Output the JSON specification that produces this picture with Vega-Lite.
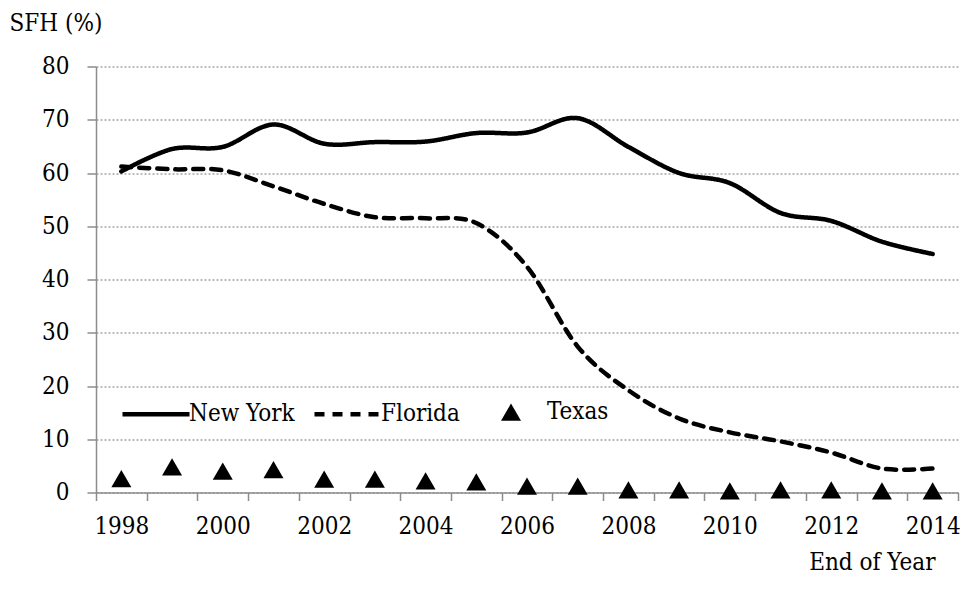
{
  "$schema": "https://vega.github.io/schema/vega-lite/v6.json",
  "autosize": {"type": "none"},
  "padding": {"left": 96, "top": 66.5, "right": 7, "bottom": 99},
  "width": 862,
  "height": 426,
  "background": "white",
  "config": {
    "view": {"stroke": null},
    "font": "DejaVu Serif Condensed, DejaVu Serif",
    "axis": {"labelFont": "DejaVu Serif Condensed, DejaVu Serif", "titleFont": "DejaVu Serif Condensed, DejaVu Serif", "labelColor": "black", "titleColor": "black", "labelFontSize": 24, "titleFontSize": 24, "titleFontWeight": "normal", "domainColor": "#8c8c8c", "tickColor": "#8c8c8c", "domainWidth": 1.5, "tickWidth": 1.5},
    "legend": {"labelFont": "DejaVu Serif Condensed, DejaVu Serif", "labelFontSize": 24, "labelColor": "black"}
  },
  "data": {"values": [
    {"state": "New York", "year": 1998, "value": 60.3},
    {"state": "New York", "year": 1999, "value": 64.5},
    {"state": "New York", "year": 2000, "value": 64.9},
    {"state": "New York", "year": 2001, "value": 69.1},
    {"state": "New York", "year": 2002, "value": 65.5},
    {"state": "New York", "year": 2003, "value": 65.8},
    {"state": "New York", "year": 2004, "value": 65.9},
    {"state": "New York", "year": 2005, "value": 67.5},
    {"state": "New York", "year": 2006, "value": 67.6},
    {"state": "New York", "year": 2007, "value": 70.3},
    {"state": "New York", "year": 2008, "value": 64.9},
    {"state": "New York", "year": 2009, "value": 60.0},
    {"state": "New York", "year": 2010, "value": 58.1},
    {"state": "New York", "year": 2011, "value": 52.5},
    {"state": "New York", "year": 2012, "value": 51.0},
    {"state": "New York", "year": 2013, "value": 47.1},
    {"state": "New York", "year": 2014, "value": 44.8},
    {"state": "Florida", "year": 1998, "value": 61.2},
    {"state": "Florida", "year": 1999, "value": 60.7},
    {"state": "Florida", "year": 2000, "value": 60.5},
    {"state": "Florida", "year": 2001, "value": 57.5},
    {"state": "Florida", "year": 2002, "value": 54.2},
    {"state": "Florida", "year": 2003, "value": 51.7},
    {"state": "Florida", "year": 2004, "value": 51.5},
    {"state": "Florida", "year": 2005, "value": 50.6},
    {"state": "Florida", "year": 2006, "value": 42.4},
    {"state": "Florida", "year": 2007, "value": 27.4},
    {"state": "Florida", "year": 2008, "value": 19.2},
    {"state": "Florida", "year": 2009, "value": 13.9},
    {"state": "Florida", "year": 2010, "value": 11.3},
    {"state": "Florida", "year": 2011, "value": 9.6},
    {"state": "Florida", "year": 2012, "value": 7.5},
    {"state": "Florida", "year": 2013, "value": 4.5},
    {"state": "Florida", "year": 2014, "value": 4.5},
    {"state": "Texas", "year": 1998, "value": 2.6},
    {"state": "Texas", "year": 1999, "value": 4.8},
    {"state": "Texas", "year": 2000, "value": 4.0},
    {"state": "Texas", "year": 2001, "value": 4.3},
    {"state": "Texas", "year": 2002, "value": 2.5},
    {"state": "Texas", "year": 2003, "value": 2.5},
    {"state": "Texas", "year": 2004, "value": 2.2},
    {"state": "Texas", "year": 2005, "value": 2.0},
    {"state": "Texas", "year": 2006, "value": 1.2},
    {"state": "Texas", "year": 2007, "value": 1.2},
    {"state": "Texas", "year": 2008, "value": 0.5},
    {"state": "Texas", "year": 2009, "value": 0.5},
    {"state": "Texas", "year": 2010, "value": 0.3},
    {"state": "Texas", "year": 2011, "value": 0.5},
    {"state": "Texas", "year": 2012, "value": 0.5},
    {"state": "Texas", "year": 2013, "value": 0.3},
    {"state": "Texas", "year": 2014, "value": 0.3}
  ]},
  "encoding": {
    "x": {"field": "year", "type": "quantitative",
      "scale": {"domain": [1997.5, 2014.5], "nice": false, "zero": false},
      "axis": {
        "title": "End of Year",
        "grid": false,
        "values": [1997.5, 1998, 1998.5, 1999.5, 2000, 2000.5, 2001.5, 2002, 2002.5, 2003.5, 2004, 2004.5, 2005.5, 2006, 2006.5, 2007.5, 2008, 2008.5, 2009.5, 2010, 2010.5, 2011.5, 2012, 2012.5, 2013.5, 2014, 2014.5],
        "labelExpr": "datum.value % 2 === 0 ? format(datum.value, 'd') : ''",
        "labelOverlap": false,
        "labelFlush": false,
        "tickSize": 8,
        "tickOpacity": {"condition": {"test": "datum.value % 1 === 0", "value": 0}, "value": 1},
        "labelPadding": 14,
        "titleX": 839,
        "titleY": 70,
        "titleAlign": "right",
        "titleAnchor": null,
        "titleBaseline": "middle"
      }
    },
    "y": {"field": "value", "type": "quantitative",
      "scale": {"domain": [0, 80], "nice": false},
      "axis": {
        "title": "SFH (%)",
        "values": [0, 10, 20, 30, 40, 50, 60, 70, 80],
        "tickSize": 9,
        "labelPadding": 18,
        "grid": true,
        "gridColor": "#a6a6a6",
        "gridDash": [2, 2],
        "gridWidth": 1.5,
        "titleAngle": 0,
        "titleX": -87,
        "titleY": -43.5,
        "titleAlign": "left",
        "titleBaseline": "middle"
      }
    }
  },
  "layer": [
    {
      "transform": [{"filter": "datum.state !== 'Texas'"}],
      "mark": {"type": "line", "interpolate": "cardinal", "tension": 0, "color": "black", "strokeWidth": 4.5, "strokeCap": "round"},
      "encoding": {
        "strokeDash": {"field": "state", "type": "nominal",
          "scale": {"domain": ["New York", "Florida"], "range": [[1, 0], [10, 8]]},
          "legend": {"title": null, "orient": "none", "direction": "horizontal", "legendX": 24, "legendY": 311.7,
            "symbolType": "stroke", "symbolSize": 4489, "symbolStrokeWidth": 4.5, "symbolStrokeColor": "black",
            "labelOffset": -3, "columnPadding": 10, "padding": 0}
        }
      }
    },
    {
      "transform": [{"filter": "datum.state === 'Texas'"}],
      "mark": {"type": "point", "filled": true, "color": "black", "size": 400, "opacity": 1},
      "encoding": {
        "shape": {"field": "state", "type": "nominal",
          "scale": {"domain": ["Texas"], "range": ["triangle-up"]},
          "legend": {"title": null, "orient": "none", "direction": "horizontal", "legendX": 403, "legendY": 333.7,
            "symbolSize": 400, "symbolFillColor": "black", "symbolStrokeColor": "black", "symbolOpacity": 1,
            "labelOffset": 24, "padding": 0}
        }
      }
    }
  ]
}
